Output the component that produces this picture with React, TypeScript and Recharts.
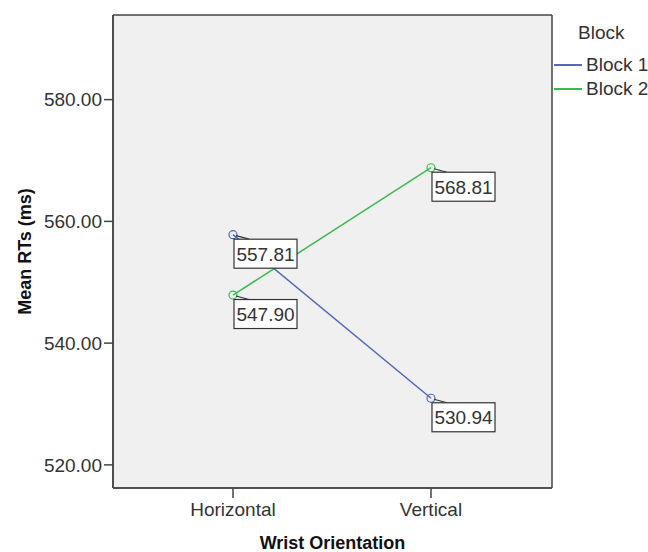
import { CartesianGrid, Label, LabelList, Legend, Line, LineChart, XAxis, YAxis } from "recharts";

const FONT = '"Liberation Sans", Arial, sans-serif';
const TEXT = "#333333";
const FRAME = "#444444";

const orientations = ["Horizontal", "Vertical"];
const block1 = [557.81, 530.94];
const block2 = [547.9, 568.81];
const yTicks = [520, 540, 560, 580];

const series = [
  { key: "block1", name: "Block 1", color: "#5267bd" },
  { key: "block2", name: "Block 2", color: "#3cba4e" },
];

const data = orientations.map((orientation, i) => ({
  orientation,
  block1: block1[i],
  block2: block2[i],
}));

function ValueTag(props: any) {
  const { x, y, value } = props;
  return (
    <g>
      <polyline
        points={`${x + 3},${y + 1} ${x + 16},${y + 4.5}`}
        stroke={TEXT}
        strokeWidth={1.2}
        fill="none"
      />
      <rect x={x + 1} y={y + 4.5} width={63} height={29} fill="#ffffff" stroke={TEXT} strokeWidth={1.2} />
      <text
        x={x + 32.5}
        y={y + 19.5}
        textAnchor="middle"
        dominantBaseline="central"
        fontSize={19}
        fontFamily={FONT}
        fill={TEXT}
      >
        {Number(value).toFixed(2)}
      </text>
    </g>
  );
}

function BlockLegend() {
  return (
    <div style={{ fontFamily: FONT, fontSize: 19, color: TEXT, whiteSpace: "nowrap" }}>
      <div style={{ paddingLeft: 24, height: 26, lineHeight: "26px" }}>Block</div>
      <div style={{ marginTop: 7 }}>
        {series.map((s) => (
          <div key={s.key} style={{ display: "flex", alignItems: "center", height: 24 }}>
            <span style={{ flex: "0 0 28px", height: 2, background: s.color, marginRight: 4 }} />
            <span>{s.name}</span>
          </div>
        ))}
      </div>
    </div>
  );
}

// frame lines on the plot edges
const edgeRows = ({ offset }: any) => [offset.top, offset.top + offset.height];
const edgeCols = ({ offset }: any) => [offset.left, offset.left + offset.width];

export default function App() {
  // green first so the blue tags sit above the crossing line
  const drawOrder = [series[1], series[0]];
  return (
    <div style={{ position: "absolute", left: 0, top: 0, background: "#ffffff" }}>
      <LineChart width={648} height={552} data={data} margin={{ top: 15, right: 96, bottom: 0, left: 0 }}>
        <CartesianGrid
          fill="#f0f0f0"
          stroke={FRAME}
          strokeWidth={1.5}
          horizontalCoordinatesGenerator={edgeRows}
          verticalCoordinatesGenerator={edgeCols}
        />
        <XAxis
          dataKey="orientation"
          height={64}
          padding={{ left: 120, right: 121 }}
          tickSize={10}
          tickMargin={5}
          stroke={FRAME}
          axisLine={{ stroke: FRAME, strokeWidth: 1.5 }}
          tickLine={{ stroke: FRAME, strokeWidth: 1.5 }}
          tick={{ fill: TEXT, fontSize: 19, fontFamily: FONT }}
        >
          <Label
            content={({ viewBox }: any) => (
              <text
                x={viewBox.x + viewBox.width / 2}
                y={viewBox.y + 55}
                textAnchor="middle"
                dominantBaseline="central"
                fontSize={18}
                fontWeight="bold"
                fontFamily={FONT}
                fill="#111111"
              >
                Wrist Orientation
              </text>
            )}
          />
        </XAxis>
        <YAxis
          width={113}
          domain={[516.2, 593.9]}
          ticks={yTicks}
          allowDataOverflow
          tickFormatter={(v: number) => v.toFixed(2)}
          tickSize={9}
          tickMargin={2}
          axisLine={{ stroke: FRAME, strokeWidth: 1.5 }}
          tickLine={{ stroke: FRAME, strokeWidth: 1.5 }}
          tick={{ fill: TEXT, fontSize: 19, fontFamily: FONT }}
        >
          <Label
            content={({ viewBox }: any) => {
              const cx = 25;
              const cy = viewBox.y + viewBox.height / 2;
              return (
                <text
                  x={cx}
                  y={cy}
                  transform={`rotate(-90 ${cx} ${cy})`}
                  textAnchor="middle"
                  dominantBaseline="central"
                  fontSize={18}
                  fontWeight="bold"
                  fontFamily={FONT}
                  fill="#111111"
                >
                  Mean RTs (ms)
                </text>
              );
            }}
          />
        </YAxis>
        <Legend
          layout="horizontal"
          verticalAlign="middle"
          align="center"
          wrapperStyle={{ left: 554, top: 20, width: 94, overflow: "visible" }}
          content={() => <BlockLegend />}
        />
        {drawOrder.map((s) => (
          <Line
            key={s.key}
            dataKey={s.key}
            name={s.name}
            type="linear"
            stroke={s.color}
            strokeWidth={1.5}
            dot={{ r: 4, stroke: s.color, strokeWidth: 1.2, fill: "none" }}
            activeDot={false}
            isAnimationActive={false}
          >
            <LabelList dataKey={s.key} content={ValueTag} />
          </Line>
        ))}
      </LineChart>
    </div>
  );
}
